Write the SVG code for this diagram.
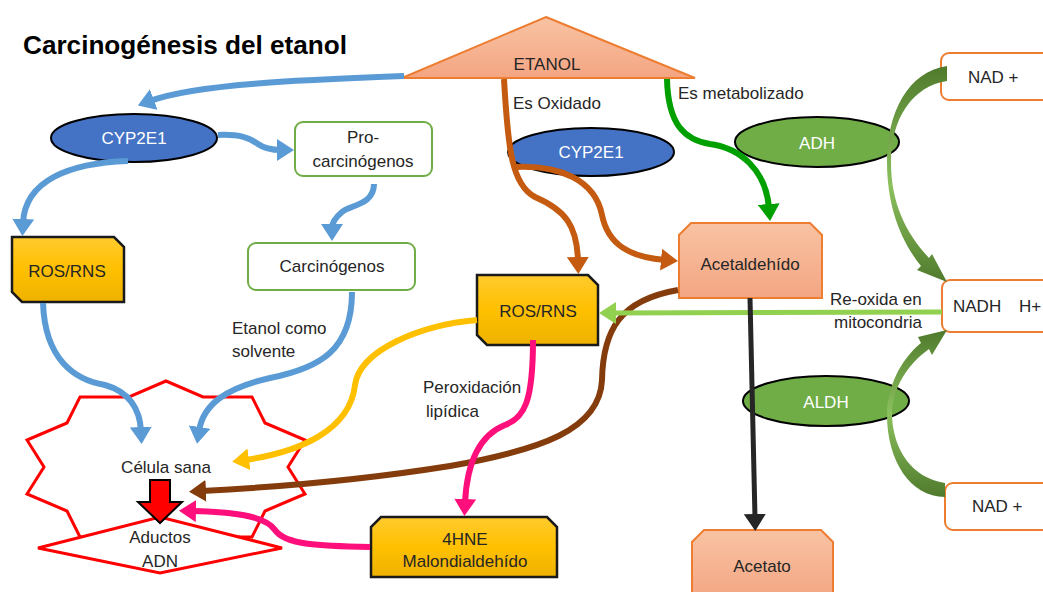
<svg xmlns="http://www.w3.org/2000/svg" width="1043" height="592" viewBox="0 0 1043 592">
<defs>
<linearGradient id="salmon" x1="0" y1="0" x2="0" y2="1"><stop offset="0" stop-color="#f8c3a3"/><stop offset="1" stop-color="#f4a582"/></linearGradient>
<linearGradient id="gold" x1="0" y1="0" x2="0" y2="1"><stop offset="0" stop-color="#ffcb2e"/><stop offset="0.5" stop-color="#ffc000"/><stop offset="1" stop-color="#eeb200"/></linearGradient>
<linearGradient id="arcTop" gradientUnits="userSpaceOnUse" x1="0" y1="66" x2="0" y2="283"><stop offset="0" stop-color="#4f7a2c"/><stop offset="0.55" stop-color="#8cc15e"/><stop offset="1" stop-color="#4f7a2c"/></linearGradient>
<linearGradient id="arcBot" gradientUnits="userSpaceOnUse" x1="0" y1="330" x2="0" y2="497"><stop offset="0" stop-color="#4f7a2c"/><stop offset="0.5" stop-color="#8cc15e"/><stop offset="1" stop-color="#4f7a2c"/></linearGradient>
<marker id="mBlue" markerUnits="userSpaceOnUse" markerWidth="20" markerHeight="22" refX="4" refY="11" orient="auto"><path d="M0,0 L17,11 L0,22 z" fill="#5b9bd5"/></marker>
<marker id="mYellow" markerUnits="userSpaceOnUse" markerWidth="20" markerHeight="22" refX="4" refY="11" orient="auto"><path d="M0,0 L17,11 L0,22 z" fill="#ffc000"/></marker>
<marker id="mBrown" markerUnits="userSpaceOnUse" markerWidth="20" markerHeight="22" refX="4" refY="11" orient="auto"><path d="M0,0 L17,11 L0,22 z" fill="#843c0c"/></marker>
<marker id="mOrange" markerUnits="userSpaceOnUse" markerWidth="20" markerHeight="22" refX="4" refY="11" orient="auto"><path d="M0,0 L17,11 L0,22 z" fill="#c55a11"/></marker>
<marker id="mPink" markerUnits="userSpaceOnUse" markerWidth="20" markerHeight="22" refX="4" refY="11" orient="auto"><path d="M0,0 L17,11 L0,22 z" fill="#ff0f7b"/></marker>
<marker id="mGreen" markerUnits="userSpaceOnUse" markerWidth="20" markerHeight="22" refX="4" refY="11" orient="auto"><path d="M0,0 L17,11 L0,22 z" fill="#00a000"/></marker>
<marker id="mLight" markerUnits="userSpaceOnUse" markerWidth="20" markerHeight="22" refX="4" refY="11" orient="auto"><path d="M0,0 L17,11 L0,22 z" fill="#92d050"/></marker>
<marker id="mDark" markerUnits="userSpaceOnUse" markerWidth="20" markerHeight="22" refX="4" refY="11" orient="auto"><path d="M0,0 L17,11 L0,22 z" fill="#262626"/></marker>
</defs>
<style>
text{font-family:"Liberation Sans",Arial,sans-serif;font-size:17px;fill:#262626}
.c{text-anchor:middle}
.w{fill:#ffffff}
.title{font-size:25px;font-weight:bold;fill:#000000}
.sal{fill:url(#salmon);stroke:#ed7d31;stroke-width:2}
.gold{fill:url(#gold);stroke:#1a1a1a;stroke-width:2.5}
.gbox{fill:#ffffff;stroke:#70ad47;stroke-width:2}
.obox{fill:#ffffff;stroke:#ed7d31;stroke-width:2}
.blueE{fill:#4472c4;stroke:#000000;stroke-width:2}
.greenE{fill:#70ad47;stroke:#000000;stroke-width:2}
.red{fill:#ffffff;stroke:#ff0000;stroke-width:3}
.ln{fill:none;stroke-width:6}
.blue{stroke:#5b9bd5;marker-end:url(#mBlue)}
</style>
<rect width="1043" height="592" fill="#ffffff"/>
<g id="title"><text class="title" x="23" y="54" textLength="324" lengthAdjust="spacingAndGlyphs">Carcinogénesis del etanol</text></g>

<g id="celula">
<polygon class="red" points="166,381 203,397 252,397 265,423 305,440 288,467 305,494 265,511 252,537 203,537 166,553 129,537 80,537 67,511 27,494 44,467 27,440 67,423 80,397 129,397"/>
<text class="c" x="166" y="473">Célula sana</text>
</g>
<g id="aductos">
<polygon class="red" points="38,548 160,517 282,548 160,573"/>
<text class="c" x="160" y="543">Aductos</text>
<text class="c" x="160" y="567">ADN</text>
</g>
<g id="redarrow"><polygon points="150,480 170,480 170,502 182,502 160,523 138,502 150,502" fill="#ff0000" stroke="#000000" stroke-width="2"/></g>

<g id="etanol"><polygon class="sal" points="546,17 695,78 402,78"/><text class="c" x="547" y="70">ETANOL</text></g>
<g id="cyp2e1-left"><ellipse class="blueE" cx="134" cy="138" rx="83" ry="24"/><text class="c w" x="134" y="144">CYP2E1</text></g>
<g id="pro"><rect class="gbox" x="295" y="122" width="137" height="54" rx="8"/><text class="c" x="363" y="143">Pro-</text><text class="c" x="363" y="167">carcinógenos</text></g>
<g id="carc"><rect class="gbox" x="248" y="243" width="167" height="47" rx="8"/><text class="c" x="332" y="272">Carcinógenos</text></g>
<g id="ros-left"><path class="gold" d="M12,237 L114,237 L124,247 L124,302 L22,302 L12,292 Z"/><text class="c" x="67" y="277">ROS/RNS</text></g>
<g id="ros-mid"><path class="gold" d="M477,275 L588,275 L598,285 L598,345 L487,345 L477,335 Z"/><text class="c" x="538" y="317">ROS/RNS</text></g>
<g id="hne"><path class="gold" d="M381,517 L547,517 L557,527 L557,577 L371,577 L371,527 Z"/><text class="c" x="465" y="545">4HNE</text><text class="c" x="465" y="567">Malondialdehído</text></g>
<g id="cyp2e1-mid"><ellipse class="blueE" cx="591" cy="152" rx="83" ry="24"/><text class="c w" x="591" y="158">CYP2E1</text></g>
<g id="adh"><ellipse class="greenE" cx="817" cy="142" rx="82" ry="25"/><text class="c w" x="817" y="149">ADH</text></g>
<g id="aldh"><ellipse class="greenE" cx="826" cy="401" rx="83" ry="25"/><text class="c w" x="826" y="408">ALDH</text></g>
<g id="acetaldehido"><path class="sal" d="M691,223 L810,223 L822,235 L822,298 L679,298 L679,235 Z"/><text class="c" x="750" y="270">Acetaldehído</text></g>
<g id="acetato"><path class="sal" d="M704,530 L821,530 L833,542 L833,600 L692,600 L692,542 Z"/><text class="c" x="762" y="572">Acetato</text></g>
<g id="nad-top"><rect class="obox" x="941" y="53" width="120" height="47" rx="8"/><text x="968" y="83">NAD +</text></g>
<g id="nadh"><rect class="obox" x="942" y="280" width="120" height="52" rx="8"/><text x="953" y="312">NADH</text><text x="1019" y="312">H+</text></g>
<g id="nad-bot"><rect class="obox" x="945" y="483" width="120" height="47" rx="8"/><text x="972" y="512">NAD +</text></g>

<g id="connectors">
<path class="ln blue" d="M404,76 C 300,80 195,84 150,101"/>
<path class="ln blue" d="M218,135 C 240,134 250,138 258,144 C 265,149 272,150 281,150"/>
<path class="ln blue" d="M128,161 C 70,163 25,180 23,223"/>
<path class="ln blue" d="M374,184 C 374,205 350,205 342,212 C 336,217 332,222 332,228"/>
<path class="ln blue" d="M43,303 C 45,360 75,380 105,385 C 130,392 140,410 141,431"/>
<path class="ln blue" d="M352,292 C 352,350 320,368 270,378 C 225,388 203,405 199,431"/>
<path class="ln" d="M477,320 C 420,325 360,350 355,385 C 350,430 300,452 245,460" stroke="#ffc000" marker-end="url(#mYellow)"/>
<path class="ln" d="M678,290 C 620,300 603,330 602,380 C 600,430 540,450 450,466 C 350,482 260,488 202,491" stroke="#843c0c" marker-end="url(#mBrown)"/>
<path class="ln" d="M533,340 C 533,400 525,418 505,425 C 480,435 467,460 465,503" stroke="#ff0f7b" marker-end="url(#mPink)"/>
<path class="ln" d="M370,547 C 320,546 285,545 275,530 C 265,515 230,512 192,511" stroke="#ff0f7b" marker-end="url(#mPink)"/>
<path d="M942,312 L612,313" fill="none" stroke="#92d050" stroke-width="5" marker-end="url(#mLight)"/>
<path d="M750,298 L755,518" fill="none" stroke="#262626" stroke-width="5" marker-end="url(#mDark)"/>
<path class="ln" d="M504,79 C 508,150 512,185 535,197 C 565,210 577,225 578,261" stroke="#c55a11" marker-end="url(#mOrange)"/>
<path class="ln" d="M515,167 C 560,165 595,180 602,215 C 608,245 630,257 665,260" stroke="#c55a11" marker-end="url(#mOrange)"/>
<path class="ln" d="M667,79 C 668,125 685,140 710,144 C 740,148 766,170 769,208" stroke="#00a000" marker-end="url(#mGreen)"/>
<path d="M947,66 C 908,72 887,112 887,162 C 887,205 900,240 921,266 L 917,270 L 947,282 L 932,254 L 929,258 C 907,234 891,205 891,162 C 891,118 913,86 947,81 Z" fill="url(#arcTop)" stroke="none"/>
<path d="M945,483 C 912,478 893,450 892,415 C 892,388 908,364 929,349 L 932,355 L 947,330 L 918,337 L 921,343 C 900,360 887,388 887,415 C 887,460 910,497 945,497 Z" fill="url(#arcBot)" stroke="none"/>
</g>

<g id="labels">
<text x="513" y="109">Es Oxidado</text>
<text x="678" y="99">Es metabolizado</text>
<text x="830" y="305">Re-oxida en</text>
<text x="834" y="328">mitocondria</text>
<text x="423" y="393">Peroxidación</text>
<text x="426" y="417">lipídica</text>
<text x="232" y="334">Etanol como</text>
<text x="232" y="357">solvente</text>
</g>
</svg>
